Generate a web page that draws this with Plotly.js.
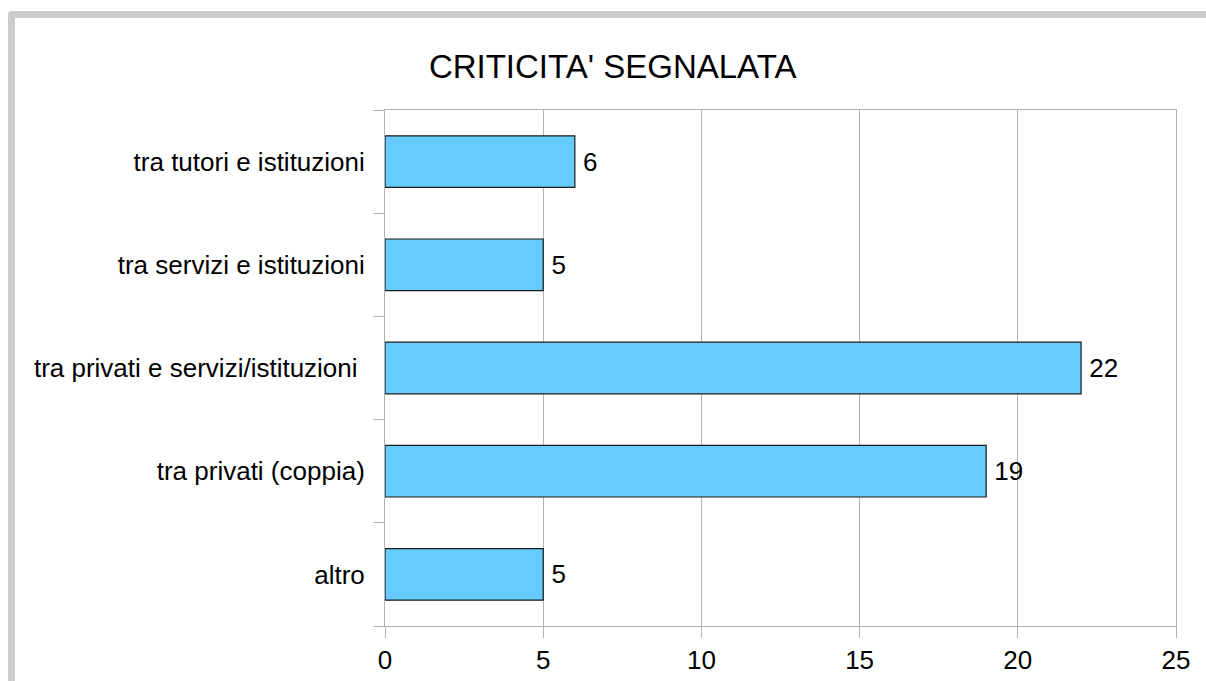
<!DOCTYPE html>
<html>
<head>
<meta charset="utf-8">
<script src="https://cdn.plot.ly/plotly-3.0.1.min.js"></script>
<style>
  html, body { margin: 0; padding: 0; background: #ffffff; }
  #wrap { position: relative; width: 1206px; height: 681px; overflow: hidden; }
  #chart { position: absolute; left: 0; top: 0; width: 1206px; height: 681px; }
  #frame { position: absolute; left: 8px; top: 11px; width: 1300px; height: 800px;
           border: 7px solid #cccccc; border-radius: 4px; pointer-events: none; box-sizing: border-box; }
</style>
</head>
<body>
<div id="wrap">
  <div id="chart"></div>
  <div id="frame"></div>
</div>
<script>
const chartTitle = "CRITICITA' SEGNALATA";
const categories = [
  "altro",
  "tra privati (coppia)",
  "tra privati e servizi/istituzioni\u00a0",
  "tra servizi e istituzioni",
  "tra tutori e istituzioni"
];
const values = [5, 19, 22, 5, 6];
const xTickValues = [0, 5, 10, 15, 20, 25];

const fontFamily = "Liberation Sans, Arial, sans-serif";
const gridGrey = "#b3b3b3";

const trace = {
  type: "bar",
  orientation: "h",
  y: categories,
  x: values,
  text: values.map(v => "\u2009" + v),
  textposition: "outside",
  cliponaxis: false,
  textfont: { family: fontFamily, size: 26, color: "#000000" },
  marker: { color: "#66ccff", line: { color: "#1a1a1a", width: 1.2 } },
  hoverinfo: "none"
};

const layout = {
  width: 1206,
  height: 681,
  margin: { l: 385, r: 30, t: 110, b: 55, pad: 0 },
  paper_bgcolor: "#ffffff",
  plot_bgcolor: "#ffffff",
  showlegend: false,
  bargap: 0.5,
  font: { family: fontFamily, size: 26, color: "#000000" },
  title: {
    text: chartTitle,
    font: { family: fontFamily, size: 33, color: "#000000" },
    xref: "container", x: 0.508, xanchor: "center",
    yref: "container", y: 0.903, yanchor: "middle"
  },
  xaxis: {
    range: [0, 25],
    tickvals: xTickValues,
    ticktext: xTickValues.map(String),
    ticks: "outside",
    ticklen: 11,
    tickcolor: gridGrey,
    tickwidth: 1,
    showgrid: true,
    gridcolor: gridGrey,
    gridwidth: 1,
    zeroline: false,
    showline: true,
    linecolor: gridGrey,
    linewidth: 1,
    mirror: true,
    ticklabelstandoff: 0,
    tickfont: { family: fontFamily, size: 26, color: "#000000" },
    fixedrange: true
  },
  yaxis: {
    type: "category",
    categoryorder: "array",
    categoryarray: categories,
    ticks: "outside",
    tickson: "boundaries",
    ticklen: 11,
    tickcolor: gridGrey,
    tickwidth: 1,
    showgrid: false,
    zeroline: false,
    showline: true,
    linecolor: gridGrey,
    linewidth: 1,
    mirror: true,
    ticklabelstandoff: 14,
    tickfont: { family: fontFamily, size: 26, color: "#000000" },
    fixedrange: true
  }
};

Plotly.newPlot("chart", [trace], layout, { displayModeBar: false, staticPlot: true });
</script>
</body>
</html>
